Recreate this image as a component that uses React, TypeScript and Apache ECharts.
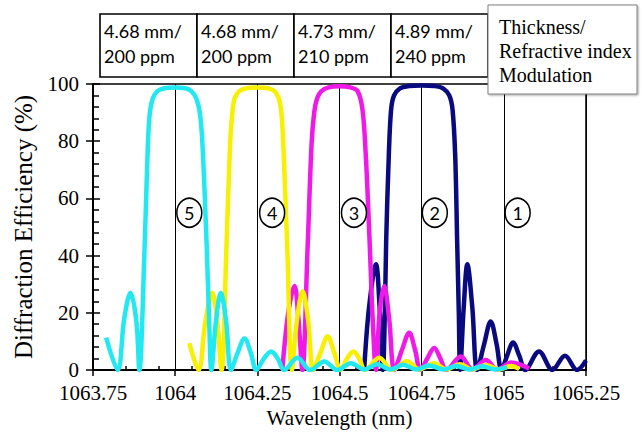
import React, { useEffect, useRef } from "react";
import * as echarts from "echarts";

// ---- axes ----
const wavelengthMin = 1063.75;
const wavelengthMax = 1065.25;
const wavelengthStep = 0.25;
const wavelengthMinorStep = 0.1;
const efficiencyMin = 0;
const efficiencyMax = 100;
const efficiencyStep = 20;

// ---- curves: [wavelength nm, diffraction efficiency %] ----
const grating5 = [
  [1063.790, 11.3], [1063.825, 0], [1063.845, 18], [1063.864, 27], [1063.882, 17], [1063.891, 0],
  [1063.907, 43], [1063.917, 79], [1063.923, 90], [1063.932, 95], [1063.946, 97.5], [1063.967, 98.5],
  [1064.000, 98.8], [1064.031, 98.5], [1064.049, 97.5], [1064.064, 95], [1064.075, 90], [1064.083, 79],
  [1064.096, 43], [1064.104, 15], [1064.110, 0], [1064.124, 17], [1064.139, 27], [1064.155, 17], [1064.170, 0],
  [1064.190, 6], [1064.211, 11], [1064.230, 6], [1064.247, 0], [1064.270, 4], [1064.292, 6.5], [1064.312, 4],
  [1064.332, 0], [1064.372, 4.3], [1064.411, 0], [1064.454, 3], [1064.493, 0], [1064.535, 2.4],
  [1064.575, 0.2], [1064.615, 2], [1064.654, 0.2], [1064.694, 1.8], [1064.733, 0.2], [1064.773, 1.6],
  [1064.815, 0.2], [1064.855, 1.4], [1064.895, 0.2], [1064.934, 1.3], [1064.974, 0.2], [1065.010, 1.0],
];
const grating4 = [
  [1064.043, 9.4], [1064.071, 0], [1064.092, 17], [1064.113, 27], [1064.128, 17], [1064.141, 0],
  [1064.156, 43], [1064.167, 79], [1064.174, 90], [1064.181, 95], [1064.195, 97.5], [1064.217, 98.5],
  [1064.250, 98.8], [1064.283, 98.5], [1064.302, 97.5], [1064.315, 95], [1064.323, 90], [1064.329, 79],
  [1064.341, 43], [1064.355, 0], [1064.370, 17], [1064.388, 27.5], [1064.405, 17], [1064.420, 0],
  [1064.442, 6], [1064.464, 11.8], [1064.484, 6], [1064.504, 0], [1064.523, 4], [1064.542, 6.5], [1064.560, 4],
  [1064.578, 0], [1064.621, 4.3], [1064.660, 0], [1064.706, 3.1], [1064.743, 0.2], [1064.788, 2.4],
  [1064.825, 0.2], [1064.867, 2], [1064.904, 0.2], [1064.946, 1.7], [1064.986, 0.2], [1065.022, 1.4],
  [1065.047, 0.3],
];
const grating3 = [
  [1064.326, 0], [1064.344, 20], [1064.363, 29.4], [1064.375, 18], [1064.387, 0],
  [1064.403, 43], [1064.415, 79], [1064.423, 90], [1064.432, 95], [1064.445, 97.5], [1064.467, 98.8],
  [1064.500, 99.2], [1064.533, 98.8], [1064.555, 97.5], [1064.570, 91], [1064.580, 75], [1064.588, 55],
  [1064.595, 35], [1064.600, 20], [1064.611, 0], [1064.622, 20], [1064.636, 29.4], [1064.651, 18],
  [1064.667, 0], [1064.690, 7], [1064.712, 13], [1064.730, 7], [1064.746, 0], [1064.767, 4], [1064.788, 7.7],
  [1064.807, 4], [1064.825, 0], [1064.869, 4.7], [1064.905, 0.2], [1064.945, 3.5], [1064.981, 0.2],
  [1065.022, 2.6], [1065.077, 0.5],
];
const grating2 = [
  [1064.575, 0], [1064.590, 22], [1064.611, 37], [1064.622, 22], [1064.632, 0],
  [1064.638, 20], [1064.642, 45], [1064.650, 75], [1064.657, 91], [1064.666, 96], [1064.684, 98.5],
  [1064.712, 99.3], [1064.750, 99.5], [1064.788, 99.3], [1064.815, 98.5], [1064.834, 96], [1064.844, 91],
  [1064.852, 75], [1064.858, 45], [1064.863, 20], [1064.867, 0], [1064.878, 22], [1064.889, 37],
  [1064.904, 22], [1064.919, 0], [1064.940, 9], [1064.960, 17], [1064.978, 9], [1064.993, 0],
  [1065.010, 5], [1065.028, 9.6], [1065.047, 5], [1065.065, 0], [1065.107, 6.5], [1065.148, 0],
  [1065.186, 5], [1065.223, 0], [1065.250, 3.3],
];

// ---- annotations ----
const cellThickness = ["4.68 mm/", "4.68 mm/", "4.73 mm/", "4.89 mm/"];
const cellModulation = ["200 ppm", "200 ppm", "210 ppm", "240 ppm"];
const legendTitleLines = ["Thickness/", "Refractive index", "Modulation"];
const markerLabels = ["5", "4", "3", "2", "1"];
const markerWavelengths = [1064.043, 1064.295, 1064.544, 1064.79, 1065.042];
const markerEfficiency = 55;

const serif = "'Liberation Serif', 'Times New Roman', serif";
const sans = "Lato, 'Open Sans', sans-serif";

export default function App() {
  const ref = useRef<HTMLDivElement>(null);

  useEffect(() => {
    if (!ref.current) return;
    const chart = echarts.init(ref.current, undefined, { renderer: "svg" });

    const cellW = 97;
    const tableX = 100;
    const tableY = 14;
    const cellH = 63;
    const tableGraphics: any[] = [];
    cellThickness.forEach((t, i) => {
      tableGraphics.push({
        type: "rect",
        shape: { x: tableX + i * cellW, y: tableY, width: cellW, height: cellH },
        style: { fill: "#fff", stroke: "#000", lineWidth: 1.6 },
        z: 100,
      });
      tableGraphics.push({
        type: "text",
        x: tableX + i * cellW + 4,
        y: tableY + 17,
        style: { text: t, fontFamily: sans, fontSize: 18, fill: "#000", align: "left", verticalAlign: "middle" },
        z: 101,
      });
      tableGraphics.push({
        type: "text",
        x: tableX + i * cellW + 4,
        y: tableY + 42,
        style: { text: cellModulation[i], fontFamily: sans, fontSize: 18, fill: "#000", align: "left", verticalAlign: "middle" },
        z: 101,
      });
    });
    tableGraphics.push({
      type: "rect",
      shape: { x: 488, y: 5, width: 149, height: 89 },
      style: {
        fill: "#fff", stroke: "#808080", lineWidth: 1,
        shadowBlur: 2, shadowOffsetX: 1, shadowOffsetY: 1, shadowColor: "rgba(0,0,0,0.35)",
      },
      z: 100,
    });
    legendTitleLines.forEach((line, i) => {
      tableGraphics.push({
        type: "text",
        x: 499,
        y: 27 + i * 24,
        style: { text: line, fontFamily: serif, fontSize: 20, fill: "#000", align: "left", verticalAlign: "middle" },
        z: 101,
      });
    });

    const curves = [
      { name: "Grating 2", data: grating2, color: "#0a0a80" },
      { name: "Grating 3", data: grating3, color: "#f01ae8" },
      { name: "Grating 4", data: grating4, color: "#f7f000" },
      { name: "Grating 5", data: grating5, color: "#22e8f2" },
    ];

    const fmtWavelength = (v: number) => `${parseFloat(v.toFixed(2))}`;

    const option: any = {
      animation: false,
      backgroundColor: "#fff",
      grid: {
        left: 93, right: 58, top: 84, bottom: 67,
        show: true, borderColor: "#000", borderWidth: 1.5, backgroundColor: "transparent",
      },
      xAxis: [
        {
          type: "value",
          min: wavelengthMin, max: wavelengthMax, interval: wavelengthStep,
          position: "bottom",
          name: "Wavelength (nm)", nameLocation: "middle", nameGap: 35,
          nameTextStyle: { fontFamily: serif, fontSize: 21, color: "#000" },
          axisLine: { show: true, onZero: false, lineStyle: { color: "#000", width: 2 } },
          axisTick: { show: true, inside: false, length: 6, lineStyle: { color: "#000", width: 1.5 } },
          axisLabel: { color: "#000", fontFamily: serif, fontSize: 21, margin: 12, formatter: fmtWavelength },
          splitLine: { show: true, lineStyle: { color: "#000", width: 1 } },
        },
        {
          type: "value",
          min: wavelengthMin, max: wavelengthMax, interval: wavelengthMinorStep,
          position: "bottom",
          axisLine: { show: false },
          axisTick: { show: true, inside: true, length: 4, lineStyle: { color: "#000", width: 1.5 } },
          axisLabel: { show: false },
          splitLine: { show: false },
        },
      ],
      yAxis: [
        {
          type: "value",
          min: efficiencyMin, max: efficiencyMax, interval: efficiencyStep,
          position: "left",
          name: "Diffraction Efficiency (%)", nameLocation: "middle", nameGap: 57, nameRotate: 90,
          nameTextStyle: { fontFamily: serif, fontSize: 25, color: "#000" },
          axisLine: { show: true, onZero: false, lineStyle: { color: "#000", width: 2 } },
          axisTick: { show: true, inside: false, length: 7, lineStyle: { color: "#000", width: 1.5 } },
          axisLabel: { color: "#000", fontFamily: serif, fontSize: 21, margin: 14 },
          splitLine: { show: false },
        },
        {
          type: "value",
          min: efficiencyMin, max: efficiencyMax, interval: efficiencyStep,
          position: "left",
          axisLine: { show: false },
          axisTick: { show: true, inside: true, length: 7, lineStyle: { color: "#000", width: 1.5 } },
          minorTick: { show: true, splitNumber: 5, length: 6, lineStyle: { color: "#000", width: 1.5 } },
          axisLabel: { show: false },
          splitLine: { show: false },
        },
      ],
      series: [
        ...curves.map((c, i) => ({
          type: "line",
          name: c.name,
          data: c.data,
          xAxisIndex: 0,
          yAxisIndex: 0,
          showSymbol: false,
          smooth: 0.35,
          clip: true,
          z: 2 + i,
          lineStyle: { color: c.color, width: 4.5 },
          itemStyle: { color: c.color },
        })),
        {
          type: "scatter",
          name: "markers",
          xAxisIndex: 0,
          yAxisIndex: 0,
          data: markerLabels.map((l, i) => [markerWavelengths[i], markerEfficiency, l]),
          symbol: "circle",
          symbolSize: [25, 29],
          z: 10,
          itemStyle: { color: "#fff", borderColor: "#000", borderWidth: 1.6, opacity: 1 },
          label: {
            show: true, position: "inside",
            formatter: (p: any) => p.data[2],
            fontFamily: sans, fontSize: 18, color: "#000",
          },
        },
      ],
      graphic: tableGraphics,
    };

    chart.setOption(option);
    return () => chart.dispose();
  }, []);

  return (
    <div
      ref={ref}
      style={{ position: "fixed", left: 0, top: 0, width: 644, height: 437, background: "#fff" }}
    />
  );
}
